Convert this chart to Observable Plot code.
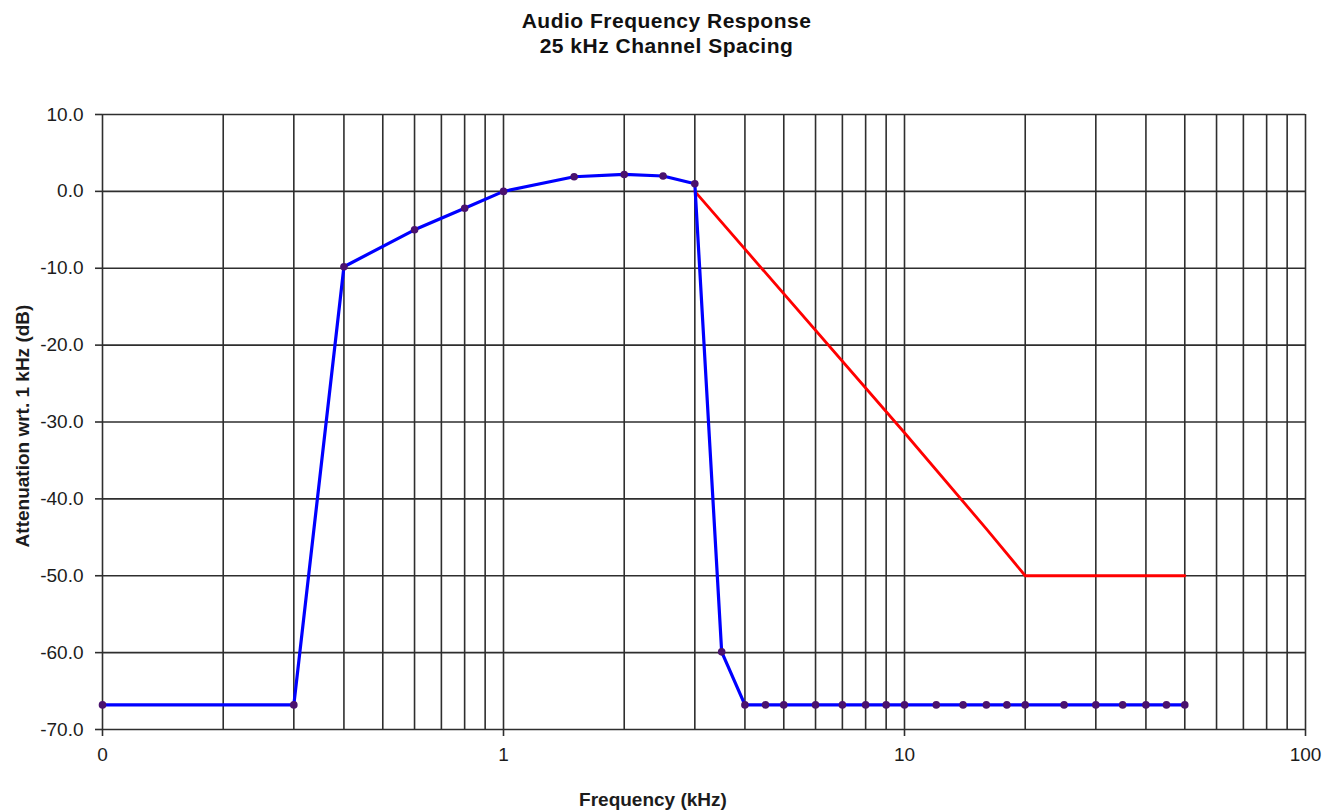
<!DOCTYPE html>
<html><head><meta charset="utf-8">
<script src="https://cdn.jsdelivr.net/npm/d3@7"></script>
<script src="https://cdn.jsdelivr.net/npm/@observablehq/plot@0.6"></script>
<style>
html,body{margin:0;padding:0;background:#fff;overflow:hidden;}
#title{font-family:"Liberation Sans",Arial,sans-serif;font-weight:bold;font-size:21px;line-height:25px;letter-spacing:0.5px;text-align:center;padding-top:8px;padding-left:8px;height:50px;color:#111;}
</style></head><body>
<div id="title"><div>Audio Frequency Response</div><div>25 kHz Channel Spacing</div></div>
<div id="chart"></div>
<script>
// Measured response (blue) — frequency in kHz, attenuation in dB
const measuredFreq = [0.1, 0.3, 0.4, 0.6, 0.8, 1.0, 1.5, 2.0, 2.5, 3.0, 3.5, 4.0, 4.5, 5, 6, 7, 8, 9, 10, 12, 14, 16, 18, 20, 25, 30, 35, 40, 45, 50];
const measuredDb   = [-66.8, -66.8, -9.8, -5.0, -2.2, 0.0, 1.9, 2.2, 2.0, 1.0, -59.9, -66.8, -66.8, -66.8, -66.8, -66.8, -66.8, -66.8, -66.8, -66.8, -66.8, -66.8, -66.8, -66.8, -66.8, -66.8, -66.8, -66.8, -66.8, -66.8];
// Limit line (red)
const limitFreq = [3.0, 10, 16, 20, 50];
const limitDb   = [0.0, -31.4, -43.9, -50.0, -50.0];
// Axis ticks
const xTickValues = [0.1, 1, 10, 100];
const xTickLabels = ["0", "1", "10", "100"];
const xGridValues = [0.1,0.2,0.3,0.4,0.5,0.6,0.7,0.8,0.9,1,2,3,4,5,6,7,8,9,10,20,30,40,50,60,70,80,90,100];
const yTickValues = [-70, -60, -50, -40, -30, -20, -10, 0, 10];

const measured = measuredFreq.map((f, i) => ({f, db: measuredDb[i]}));
const limit = limitFreq.map((f, i) => ({f, db: limitDb[i]}));
const gridColor = "#2e2e2e";
const labelColor = "#1c1c1c";

const chart = Plot.plot({
  width: 1325,
  height: 753,
  marginTop: 56,
  marginBottom: 82,
  marginLeft: 102,
  marginRight: 20,
  style: {fontFamily: "'Liberation Sans', Arial, sans-serif", fontSize: "19px", background: "#fff", color: labelColor},
  x: {type: "log", domain: [0.1, 100]},
  y: {domain: [-70, 10]},
  marks: [
    Plot.ruleX(xGridValues, {stroke: gridColor, strokeWidth: 1.6}),
    Plot.ruleY(yTickValues, {stroke: gridColor, strokeWidth: 1.6}),
    Plot.axisX({ticks: xTickValues, tickFormat: d => xTickLabels[xTickValues.indexOf(d)], tickSize: 7, tickPadding: 11, stroke: gridColor, strokeWidth: 1.6, fill: labelColor, fontSize: 19, label: null}),
    Plot.axisY({ticks: yTickValues, tickFormat: d => d.toFixed(1), tickSize: 7, tickPadding: 12, stroke: gridColor, strokeWidth: 1.6, fill: labelColor, fontSize: 19, label: null}),
    Plot.line(limit, {x: "f", y: "db", stroke: "#ff0000", strokeWidth: 2.8}),
    Plot.line(measured, {x: "f", y: "db", stroke: "#0000ff", strokeWidth: 3.2}),
    Plot.dot(measured, {x: "f", y: "db", r: 3.8, fill: "#4a126e", stroke: "none"}),
    Plot.text(["Attenuation wrt. 1 kHz (dB)"], {frameAnchor: "left", dx: -80, dy: 4, rotate: -90, textAnchor: "middle", lineAnchor: "middle", fontWeight: "bold", fontSize: 19, fill: labelColor}),
    Plot.text(["Frequency (kHz)"], {frameAnchor: "bottom", dx: -51, dy: 70, textAnchor: "middle", lineAnchor: "middle", fontWeight: "bold", fontSize: 19, fill: labelColor})
  ]
});
document.getElementById("chart").appendChild(chart);
</script>
</body></html>
